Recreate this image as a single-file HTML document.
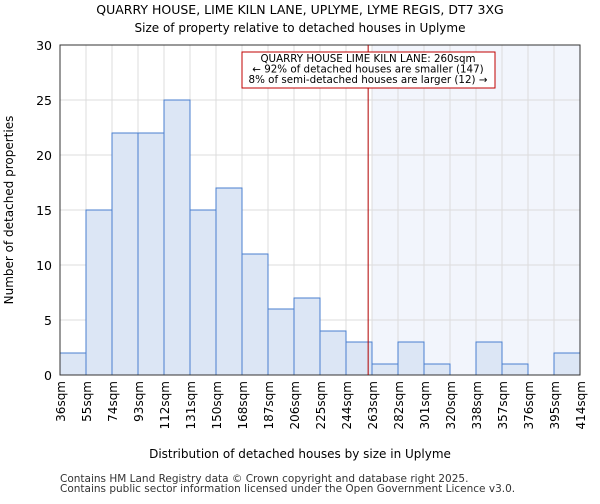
<!DOCTYPE html>
<html><head><meta charset="utf-8"><style>
body{margin:0;background:#fff;font-family:"DejaVu Sans","Liberation Sans",sans-serif}
</style></head><body>
<svg width="600" height="500" xmlns="http://www.w3.org/2000/svg" font-family="DejaVu Sans, Liberation Sans, sans-serif">
<text x="300" y="14" text-anchor="middle" font-size="12.5">QUARRY HOUSE, LIME KILN LANE, UPLYME, LYME REGIS, DT7 3XG</text>
<text x="300" y="32" text-anchor="middle" font-size="12">Size of property relative to detached houses in Uplyme</text>
<g id="plot"></g>
<text x="300" y="458" text-anchor="middle" font-size="12">Distribution of detached houses by size in Uplyme</text>
<text transform="translate(13,210) rotate(-90)" text-anchor="middle" font-size="12">Number of detached properties</text>
<text x="60" y="482" font-size="10.5" fill="#333">Contains HM Land Registry data © Crown copyright and database right 2025.</text>
<text x="60" y="492" font-size="10.5" fill="#333">Contains public sector information licensed under the Open Government Licence v3.0.</text>
</svg>
<script>
const categories=["36sqm","55sqm","74sqm","93sqm","112sqm","131sqm","150sqm","168sqm","187sqm","206sqm","225sqm","244sqm","263sqm","282sqm","301sqm","320sqm","338sqm","357sqm","376sqm","395sqm","414sqm"];
const counts=[2,15,22,22,25,15,17,11,6,7,4,3,1,3,1,0,3,1,0,2];
const yTicks=[0,5,10,15,20,25,30];
const subjectSize=260;
const binStart=36, binWidth=18.9;
const X0=60,BW=26,Y0=375,YT=45,YMAX=30;
const ns="http://www.w3.org/2000/svg";
const g=document.getElementById('plot');
const x=i=>X0+i*BW;
const y=v=>Y0-(v/YMAX)*(Y0-YT);
const xv=s=>X0+(s-binStart)/binWidth*BW;
function mk(t,a){const e=document.createElementNS(ns,t);for(const k in a)e.setAttribute(k,a[k]);g.appendChild(e);return e;}
const W=counts.length*BW;
const lineX=xv(subjectSize);
const hiStart=x(Math.ceil((subjectSize-binStart)/binWidth));
let e=mk('rect',{x:hiStart,y:YT,width:X0+W-hiStart,height:Y0-YT,fill:'#f2f5fc'});


yTicks.forEach(t=>{let l=mk('line',{x1:X0,x2:X0+W,y1:y(t),y2:y(t),stroke:'#dcdcdc'});


let tx=mk('text',{x:X0-8,y:y(t)+5,'text-anchor':'end','font-size':'12.5'});tx.textContent=t;

});
categories.forEach((c,i)=>{let l=mk('line',{x1:x(i),x2:x(i),y1:YT,y2:Y0,stroke:'#dcdcdc'});


let tx=mk('text',{transform:`translate(${x(i)+5},${Y0+6}) rotate(-90)`,'text-anchor':'end','font-size':'12'});tx.textContent=c;

});
counts.forEach((v,i)=>{if(v<=0)return;let r=mk('rect',{x:x(i),y:y(v),width:BW,height:Y0-y(v),fill:'#dce6f5',stroke:'#4a7fcf','stroke-width':1});

});
e=mk('rect',{x:X0,y:YT,width:W,height:Y0-YT,fill:'none',stroke:'#333'});


e=mk('line',{x1:lineX,x2:lineX,y1:YT,y2:Y0,stroke:'#b00000','stroke-width':1});


e=mk('rect',{x:242,y:52,width:253,height:36,fill:'#fff',stroke:'#c00000'});


["QUARRY HOUSE LIME KILN LANE: 260sqm","← 92% of detached houses are smaller (147)","8% of semi-detached houses are larger (12) →"].forEach((s,i)=>{let t=mk('text',{x:368,y:62+i*10.5,'text-anchor':'middle','font-size':'10.3'});t.textContent=s;

});
</script>
</body></html>
